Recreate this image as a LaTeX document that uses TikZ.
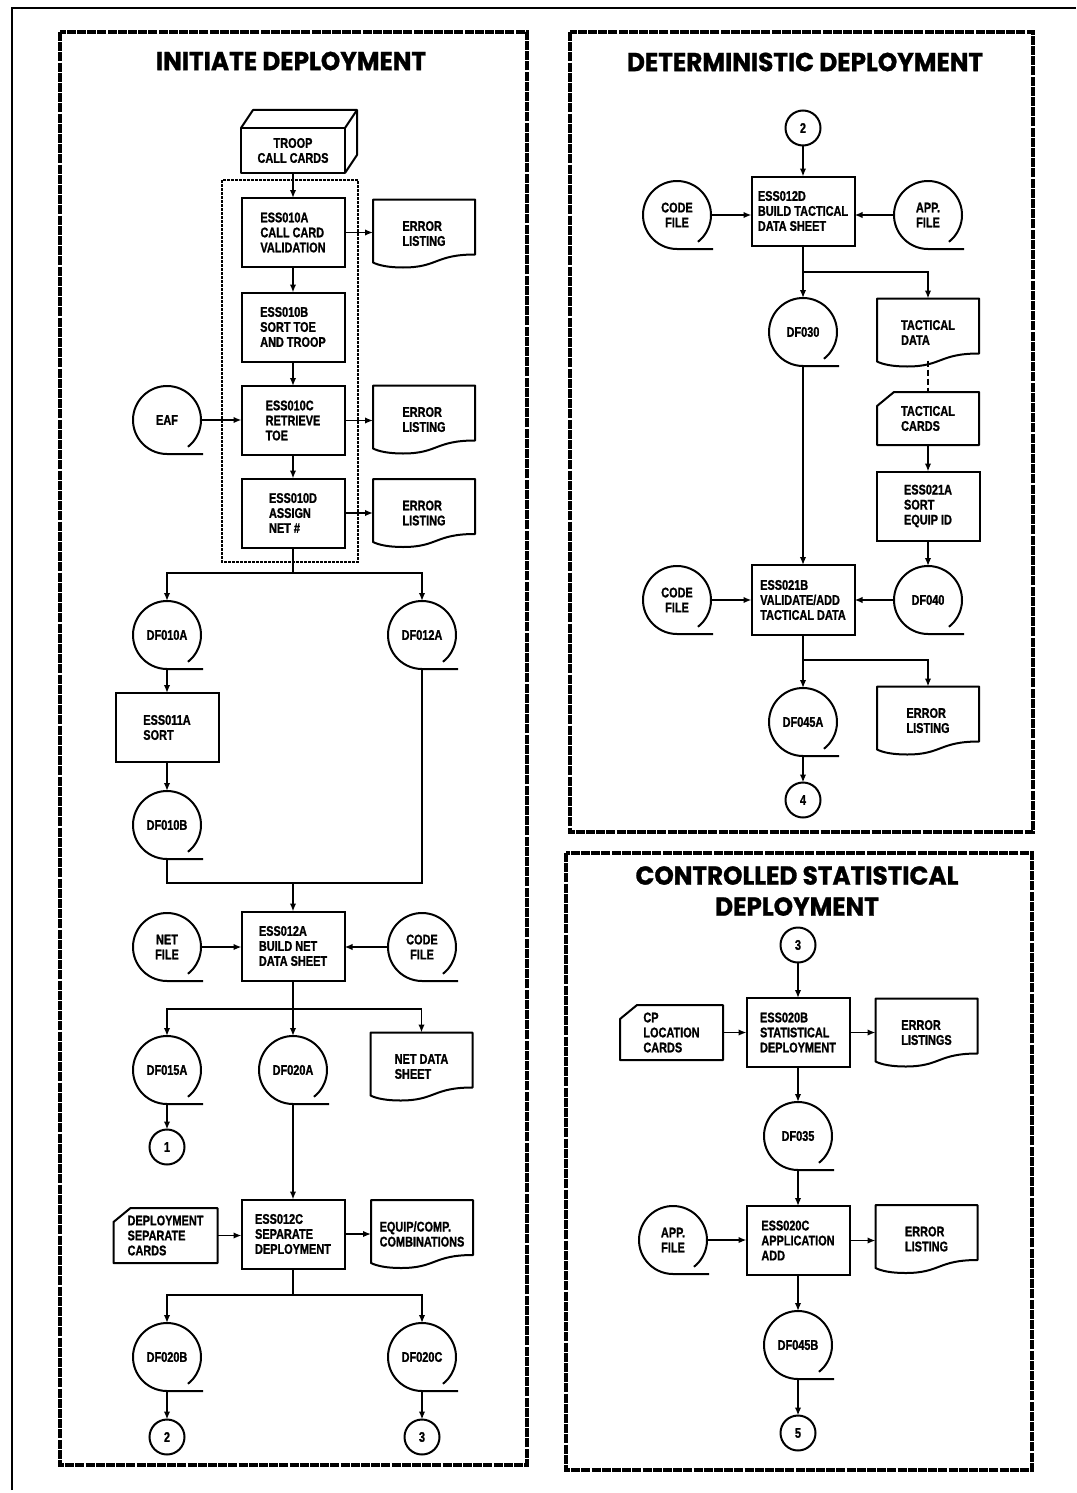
\documentclass[tikz,border=0pt]{standalone}
\usepackage{fontspec}
\setmainfont{Liberation Sans}
\newfontfamily\lblfont[FakeStretch=0.78, FakeBold=1.2]{Liberation Sans Bold}
\newfontfamily\ttlfont[FakeStretch=0.95, FakeBold=1]{Poppins Bold}
\newcommand\lbl{\lblfont\fontsize{14}{15}\selectfont}
\newcommand\ttl{\ttlfont\fontsize{26}{31}\selectfont}
\usetikzlibrary{arrows.meta,calc}
\tikzset{
  base/.style={font=\lbl, inner sep=0pt, outer sep=0pt, align=left},
  proc/.style={base, draw, line width=2pt, minimum width=103pt, minimum height=69pt},
  tape/.style={base, circle, minimum size=68pt, align=center},
  conn/.style={base, circle, draw, line width=2pt, minimum size=35pt, align=center},
  docnode/.style={base, minimum width=102pt, minimum height=68pt},
  cardnode/.style={base, minimum width=104pt, minimum height=55pt},
  arr/.style={line width=1.8pt, -{Latex[length=8pt,width=6.5pt]}},
  ln/.style={line width=1.8pt},
  shapeline/.style={line width=2pt, line join=round},
  panel/.style={line width=3.8pt, dash pattern=on 9pt off 1.2pt},
  ttlnode/.style={font=\ttl, align=center, inner sep=0pt},
}
\newcommand\tapedeco[1]{\draw[shapeline] (#1.-52) arc[start angle=-52, end angle=270, radius=34pt] -- ++(36pt,0pt);}
\newcommand\docdeco[1]{\draw[shapeline] ([yshift=5pt]#1.south west) -- (#1.north west) -- (#1.north east) -- ([yshift=13pt]#1.south east) .. controls +(-40pt,0pt) and +(35pt,0pt) .. ([xshift=30pt]#1.south west) .. controls +(-14pt,0pt) and +(6pt,-3pt) .. ([yshift=5pt]#1.south west) -- cycle;}
\newcommand\carddeco[1]{\draw[shapeline] ([xshift=17pt]#1.north west) -- (#1.north east) -- (#1.south east) -- (#1.south west) -- ([yshift=-14pt]#1.north west) -- cycle;}
\newcommand\cubedeco[1]{\draw[shapeline] (#1.north west) rectangle (#1.south east);
  \draw[shapeline] (#1.north west) -- ++(12pt,18pt) -- ([shift={(12pt,18pt)}]#1.north east) -- ([shift={(12pt,18pt)}]#1.south east) -- (#1.south east);
  \draw[shapeline] (#1.north east) -- ++(12pt,18pt);}
\begin{document}
\begin{tikzpicture}[x=1pt,y=-1pt]
\useasboundingbox (0,0) rectangle (1076,1493);
% outer frame
\draw[line width=2.2pt] (12,1490) -- (12,8) -- (1076,8);
% panels
\draw[panel] (60,32) rectangle (527,1465);
\draw[panel] (570,32) rectangle (1033,832);
\draw[panel] (566,853) rectangle (1032,1470);
% titles
\node[ttlnode] (t1) at (291,61) {INITIATE DEPLOYMENT};
\node[ttlnode] (t2) at (805,62) {DETERMINISTIC DEPLOYMENT};
\node[ttlnode] (t3) at (797,891) {CONTROLLED STATISTICAL\\DEPLOYMENT};

% ---------- left panel ----------
\draw[line width=1.4pt, dash pattern=on 3pt off 1pt] (222,180) rectangle (358,562);
\node[base, align=center, minimum width=104pt, minimum height=45pt] (troop) at (293,150.5) {TROOP\\CALL CARDS};
\cubedeco{troop}
\node[proc] (e10a) at (293,232.5) {ESS010A\\CALL CARD\\VALIDATION};
\node[docnode] (err1) at (424,233.5) {ERROR\\LISTING};
\docdeco{err1}
\node[proc] (e10b) at (293,327) {ESS010B\\SORT TOE\\AND TROOP};
\node[proc] (e10c) at (293,420.5) {ESS010C\\RETRIEVE\\TOE};
\node[docnode] (err2) at (424,419.5) {ERROR\\LISTING};
\docdeco{err2}
\node[proc] (e10d) at (293,513) {ESS010D\\ASSIGN\\NET \#};
\node[docnode] (err3) at (424,513) {ERROR\\LISTING};
\docdeco{err3}
\node[tape] (eaf) at (167,420) {EAF};
\tapedeco{eaf}
\node[tape] (df10a) at (167,635) {DF010A};
\tapedeco{df10a}
\node[tape] (df12a) at (422,635) {DF012A};
\tapedeco{df12a}
\node[proc] (e11a) at (167,727.5) {ESS011A\\SORT};
\node[tape] (df10b) at (167,825) {DF010B};
\tapedeco{df10b}
\node[proc] (e12a) at (293,946) {ESS012A\\BUILD NET\\DATA SHEET};
\node[tape] (netf) at (167,947) {NET\\FILE};
\tapedeco{netf}
\node[tape] (codef) at (422,947) {CODE\\FILE};
\tapedeco{codef}
\node[tape] (df15a) at (167,1070) {DF015A};
\tapedeco{df15a}
\node[tape] (df20a) at (293,1070) {DF020A};
\tapedeco{df20a}
\node[docnode] (netds) at (421.5,1066.5) {NET DATA\\SHEET};
\docdeco{netds}
\node[conn] (c1) at (167,1147) {1};
\node[proc] (e12c) at (293,1234) {ESS012C\\SEPARATE\\DEPLOYMENT};
\node[cardnode] (depc) at (165.5,1235.5) {DEPLOYMENT\\SEPARATE\\CARDS};
\carddeco{depc}
\node[docnode] (equip) at (422,1234) {EQUIP/COMP.\\COMBINATIONS};
\docdeco{equip}
\node[tape] (df20b) at (167,1357) {DF020B};
\tapedeco{df20b}
\node[tape] (df20c) at (422,1357) {DF020C};
\tapedeco{df20c}
\node[conn] (c2) at (167,1437) {2};
\node[conn] (c3) at (422,1437) {3};

\coordinate (j1) at (293,573);
\coordinate (j2) at (293,883);
\coordinate (j3) at (293,1009);
\coordinate (j4) at (293,1295);

\draw[arr] (troop.south) -- (e10a.north);
\draw[arr] (e10a.east) -- (e10a.east -| err1.west);
\draw[arr] (e10a.south) -- (e10b.north);
\draw[arr] (e10b.south) -- (e10c.north);
\draw[arr] (e10c.south) -- (e10d.north);
\draw[arr] (eaf.east) -- (eaf.east -| e10c.west);
\draw[arr] (e10c.east) -- (e10c.east -| err2.west);
\draw[arr] (e10d.east) -- (e10d.east -| err3.west);
\draw[ln] (e10d.south) -- (j1);
\draw[arr] (j1) -| (df10a.north);
\draw[arr] (j1) -| (df12a.north);
\draw[arr] (df10a.south) -- (e11a.north);
\draw[arr] (e11a.south) -- (df10b.north);
\draw[ln] (df10b.south) |- (j2);
\draw[ln] (df12a.south) |- (j2);
\draw[arr] (j2) -- (e12a.north);
\draw[arr] (netf.east) -- (netf.east -| e12a.west);
\draw[arr] (codef.west) -- (codef.west -| e12a.east);
\draw[ln] (e12a.south) -- (j3);
\draw[arr] (j3) -| (df15a.north);
\draw[arr] (j3) -- (df20a.north);
\draw[arr] (j3) -| (netds.north);
\draw[arr] (df15a.south) -- (c1.north);
\draw[arr] (df20a.south) -- (e12c.north);
\draw[arr] (depc.east) -- (depc.east -| e12c.west);
\draw[arr] (e12c.east) -- (e12c.east -| equip.west);
\draw[ln] (e12c.south) -- (j4);
\draw[arr] (j4) -| (df20b.north);
\draw[arr] (j4) -| (df20c.north);
\draw[arr] (df20b.south) -- (c2.north);
\draw[arr] (df20c.south) -- (c3.north);

% ---------- right top panel ----------
\node[conn] (c2r) at (803,128) {2};
\node[proc] (e12d) at (803,211) {ESS012D\\BUILD TACTICAL\\DATA SHEET};
\node[tape] (code1) at (677,215) {CODE\\FILE};
\tapedeco{code1}
\node[tape] (app1) at (928,215) {APP.\\FILE};
\tapedeco{app1}
\node[tape] (df30) at (803,332) {DF030};
\tapedeco{df30}
\node[docnode] (tacd) at (928,332.5) {TACTICAL\\DATA};
\docdeco{tacd}
\node[cardnode, minimum height=53pt, minimum width=102pt] (tacc) at (928,418.5) {TACTICAL\\CARDS};
\carddeco{tacc}
\node[proc] (e21a) at (928,506) {ESS021A\\SORT\\EQUIP ID};
\node[tape] (df40) at (928,600) {DF040};
\tapedeco{df40}
\node[proc, minimum height=70pt] (e21b) at (803,600) {ESS021B\\VALIDATE/ADD\\TACTICAL DATA};
\node[tape] (code2) at (677,600) {CODE\\FILE};
\tapedeco{code2}
\node[tape] (df45a) at (803,722) {DF045A};
\tapedeco{df45a}
\node[docnode] (err4) at (928,720.5) {ERROR\\LISTING};
\docdeco{err4}
\node[conn] (c4) at (803,800) {4};

\coordinate (j5) at (803,272);
\coordinate (j6) at (803,660);

\draw[arr] (c2r.south) -- (e12d.north);
\draw[arr] (code1.east) -- (code1.east -| e12d.west);
\draw[arr] (app1.west) -- (app1.west -| e12d.east);
\draw[ln] (e12d.south) -- (j5);
\draw[arr] (j5) -- (df30.north);
\draw[arr] (j5) -| (tacd.north);
\draw[ln, dash pattern=on 6pt off 3pt] ([yshift=6pt]tacd.south) -- (tacc.north);
\draw[arr] (tacc.south) -- (e21a.north);
\draw[arr] (e21a.south) -- (df40.north);
\draw[arr] (df30.south) -- (e21b.north);
\draw[arr] (code2.east) -- (code2.east -| e21b.west);
\draw[arr] (df40.west) -- (df40.west -| e21b.east);
\draw[ln] (e21b.south) -- (j6);
\draw[arr] (j6) -- (df45a.north);
\draw[arr] (j6) -| (err4.north);
\draw[arr] (df45a.south) -- (c4.north);

% ---------- right bottom panel ----------
\node[conn] (c3r) at (798,945) {3};
\node[proc] (e20b) at (798,1032.5) {ESS020B\\STATISTICAL\\DEPLOYMENT};
\node[cardnode, minimum width=103pt] (cpl) at (671.5,1032.5) {CP\\LOCATION\\CARDS};
\carddeco{cpl}
\node[docnode] (errs) at (926.5,1032.5) {ERROR\\LISTINGS};
\docdeco{errs}
\node[tape] (df35) at (798,1136) {DF035};
\tapedeco{df35}
\node[proc] (e20c) at (798,1240.5) {ESS020C\\APPLICATION\\ADD};
\node[tape] (appf) at (673,1240) {APP.\\FILE};
\tapedeco{appf}
\node[docnode] (err5) at (926.5,1239) {ERROR\\LISTING};
\docdeco{err5}
\node[tape] (df45b) at (798,1345) {DF045B};
\tapedeco{df45b}
\node[conn] (c5) at (798,1433) {5};

\draw[arr] (c3r.south) -- (e20b.north);
\draw[arr] (cpl.east) -- (cpl.east -| e20b.west);
\draw[arr] (e20b.east) -- (e20b.east -| errs.west);
\draw[arr] (e20b.south) -- (df35.north);
\draw[arr] (df35.south) -- (e20c.north);
\draw[arr] (appf.east) -- (appf.east -| e20c.west);
\draw[arr] (e20c.east) -- (e20c.east -| err5.west);
\draw[arr] (e20c.south) -- (df45b.north);
\draw[arr] (df45b.south) -- (c5.north);
\end{tikzpicture}
\end{document}
